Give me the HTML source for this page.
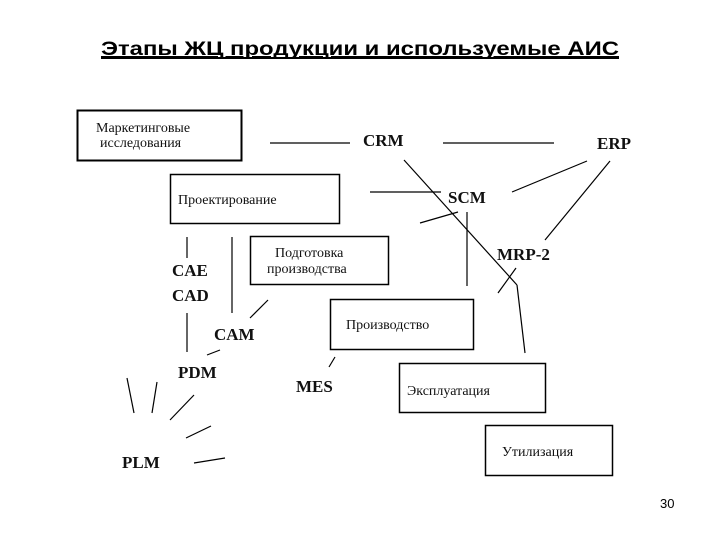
<!DOCTYPE html>
<html><head><meta charset="utf-8"><style>
html,body{margin:0;padding:0;background:#fff;width:720px;height:540px;overflow:hidden}
svg{display:block}
.t{font-family:"Liberation Serif",serif;font-size:14px;fill:#111}
.b{font-family:"Liberation Serif",serif;font-size:17px;font-weight:bold;fill:#111}
</style></head><body>
<svg width="720" height="540" xmlns="http://www.w3.org/2000/svg">
<text x="101" y="55" font-family="Liberation Sans, sans-serif" font-size="19" font-weight="bold" textLength="518" lengthAdjust="spacingAndGlyphs" fill="#000" text-decoration="underline">Этапы ЖЦ продукции и используемые АИС</text>
<line x1="101" y1="58" x2="619" y2="58" stroke="#000" stroke-width="2"/>
<g fill="none" stroke="#000">
<rect x="77.5" y="110.5" width="164" height="50" stroke-width="2"/>
<rect x="170.5" y="174.5" width="169" height="49" stroke-width="1.5"/>
<rect x="250.5" y="236.5" width="138" height="48" stroke-width="1.5"/>
<rect x="330.5" y="299.5" width="143" height="50" stroke-width="1.5"/>
<rect x="399.5" y="363.5" width="146" height="49" stroke-width="1.5"/>
<rect x="485.5" y="425.5" width="127" height="50" stroke-width="1.5"/>
</g>
<g stroke="#000" stroke-width="1.2">
<line x1="270" y1="143" x2="350" y2="143"/>
<line x1="443" y1="143" x2="554" y2="143"/>
<line x1="404" y1="160" x2="517" y2="285"/>
<line x1="517" y1="285" x2="525" y2="353"/>
<line x1="516" y1="268" x2="498" y2="293"/>
<line x1="587" y1="161" x2="512" y2="192"/>
<line x1="610" y1="161" x2="545" y2="240"/>
<line x1="370" y1="192" x2="441" y2="192"/>
<line x1="420" y1="223" x2="458" y2="212"/>
<line x1="467" y1="212" x2="467" y2="286"/>
<line x1="187" y1="237" x2="187" y2="258"/>
<line x1="232" y1="237" x2="232" y2="313"/>
<line x1="187" y1="313" x2="187" y2="352"/>
<line x1="250" y1="318" x2="268" y2="300"/>
<line x1="207" y1="355" x2="220" y2="350"/>
<line x1="329" y1="367" x2="335" y2="357"/>
<line x1="127" y1="378" x2="134" y2="413"/>
<line x1="157" y1="382" x2="152" y2="413"/>
<line x1="194" y1="395" x2="170" y2="420"/>
<line x1="211" y1="426" x2="186" y2="438"/>
<line x1="225" y1="458" x2="194" y2="463"/>
</g>
<text class="t" x="96" y="132">Маркетинговые</text>
<text class="t" x="100" y="147">исследования</text>
<text class="t" x="178" y="204">Проектирование</text>
<text class="t" x="275" y="257">Подготовка</text>
<text class="t" x="267" y="273">производства</text>
<text class="t" x="346" y="329">Производство</text>
<text class="t" x="407" y="395">Эксплуатация</text>
<text class="t" x="502" y="456">Утилизация</text>
<text class="b" x="363" y="146">CRM</text>
<text class="b" x="597" y="149">ERP</text>
<text class="b" x="448" y="203">SCM</text>
<text class="b" x="497" y="260">MRP-2</text>
<text class="b" x="172" y="276">CAE</text>
<text class="b" x="172" y="301">CAD</text>
<text class="b" x="214" y="340">CAM</text>
<text class="b" x="178" y="378">PDM</text>
<text class="b" x="296" y="392">MES</text>
<text class="b" x="122" y="468">PLM</text>
<text x="660" y="508" font-family="Liberation Sans, sans-serif" font-size="13" fill="#000">30</text>
</svg>
</body></html>
